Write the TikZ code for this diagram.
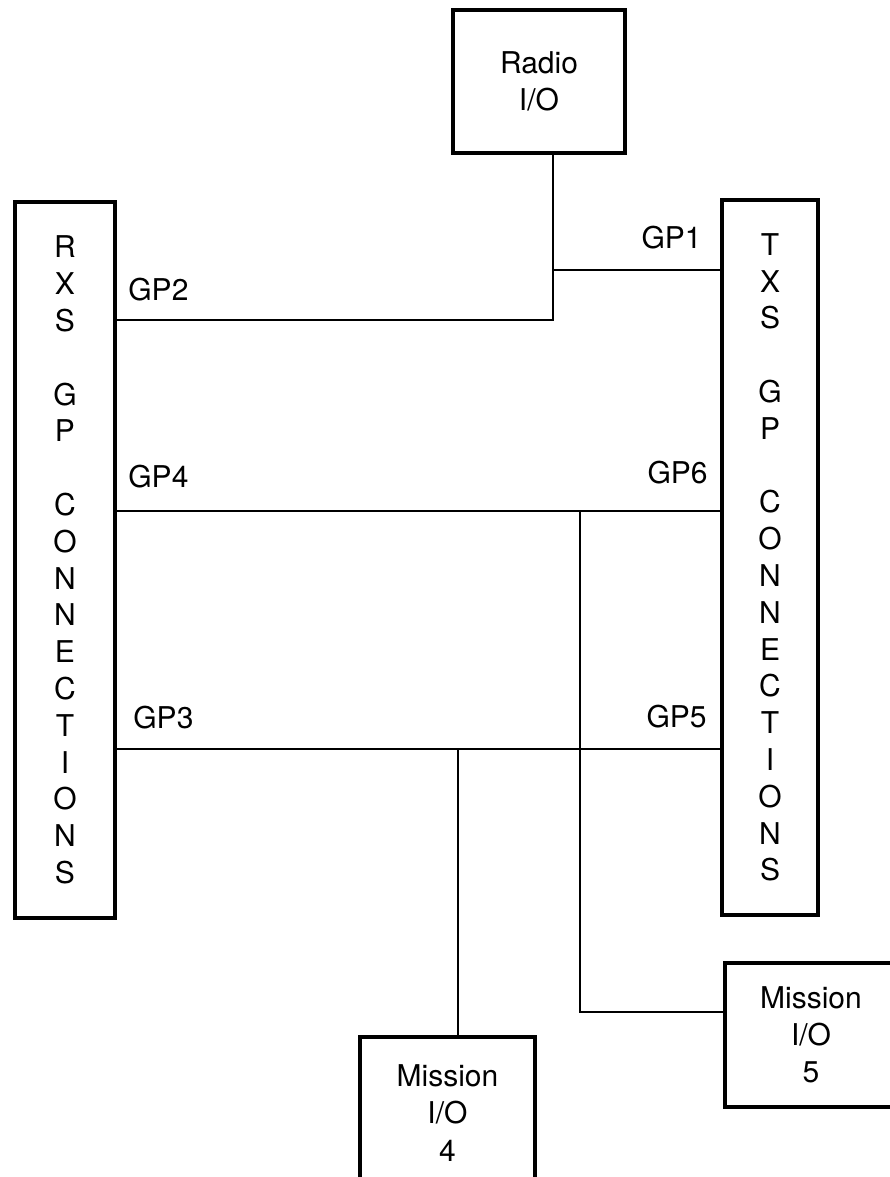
\documentclass[tikz,border=0pt]{standalone}
\usepackage{fontspec}
\setmainfont{TeX Gyre Heros}
\begin{document}
\begin{tikzpicture}[x=0.5pt,y=-0.5pt,
  boite/.style={draw,line width=2pt,inner sep=0pt,align=center,
    font=\fontsize{15}{18.6}\selectfont},
  colonne/.style={boite,font=\fontsize{15}{18.4}\selectfont},
  liaison/.style={line width=1pt},
  etiq/.style={inner sep=0pt,font=\fontsize{15}{17}\selectfont}]

\useasboundingbox (0,0) rectangle (889,1177);

% Boites
\node[boite,minimum width=86pt,minimum height=71.5pt]
(radio) at (539,81.5) {Radio\\I/O};

\node[colonne,minimum width=50pt,minimum height=358pt]
(rxs) at (65,560)
{R\\X\\S\\[18.4pt]G\\P\\[18.4pt]C\\O\\N\\N\\E\\C\\T\\I\\O\\N\\S};

\node[colonne,minimum width=48pt,minimum height=357.5pt]
(txs) at (770,557.5)
{T\\X\\S\\[18.4pt]G\\P\\[18.4pt]C\\O\\N\\N\\E\\C\\T\\I\\O\\N\\S};

\node[boite,minimum width=87.5pt,minimum height=76pt]
(mio4) at (447.5,1113) {Mission\\I/O\\4};

\node[boite,minimum width=86pt,minimum height=72pt]
(mio5) at (811,1035) {Mission\\I/O\\5};

% Points de jonction
\coordinate (j1) at (553,270);
\coordinate (j2) at (553,320);
\coordinate (j6) at (580,511);
\coordinate (j5) at (580,1012);
\coordinate (j3) at (458,749);

% Liaisons
\draw[liaison] (radio.south -| j1) -- (j2) -- (rxs.east |- j2);
\draw[liaison] (j1) -- (txs.west |- j1);
\draw[liaison] (rxs.east |- j6) -- (txs.west |- j6);
\draw[liaison] (rxs.east |- j3) -- (txs.west |- j3);
\draw[liaison] (j6) -- (j5) -- (mio5.west |- j5);
\draw[liaison] (j3) -- (mio4.north -| j3);

% Etiquettes
\node[etiq,anchor=west] (lgp2) at (128,290) {GP2};
\node[etiq,anchor=west] (lgp4) at (128,477) {GP4};
\node[etiq,anchor=west] (lgp3) at (133,718) {GP3};
\node[etiq,anchor=east] (lgp1) at (702,238) {GP1};
\node[etiq,anchor=east] (lgp6) at (708,473) {GP6};
\node[etiq,anchor=east] (lgp5) at (707,717) {GP5};

\end{tikzpicture}
\end{document}
